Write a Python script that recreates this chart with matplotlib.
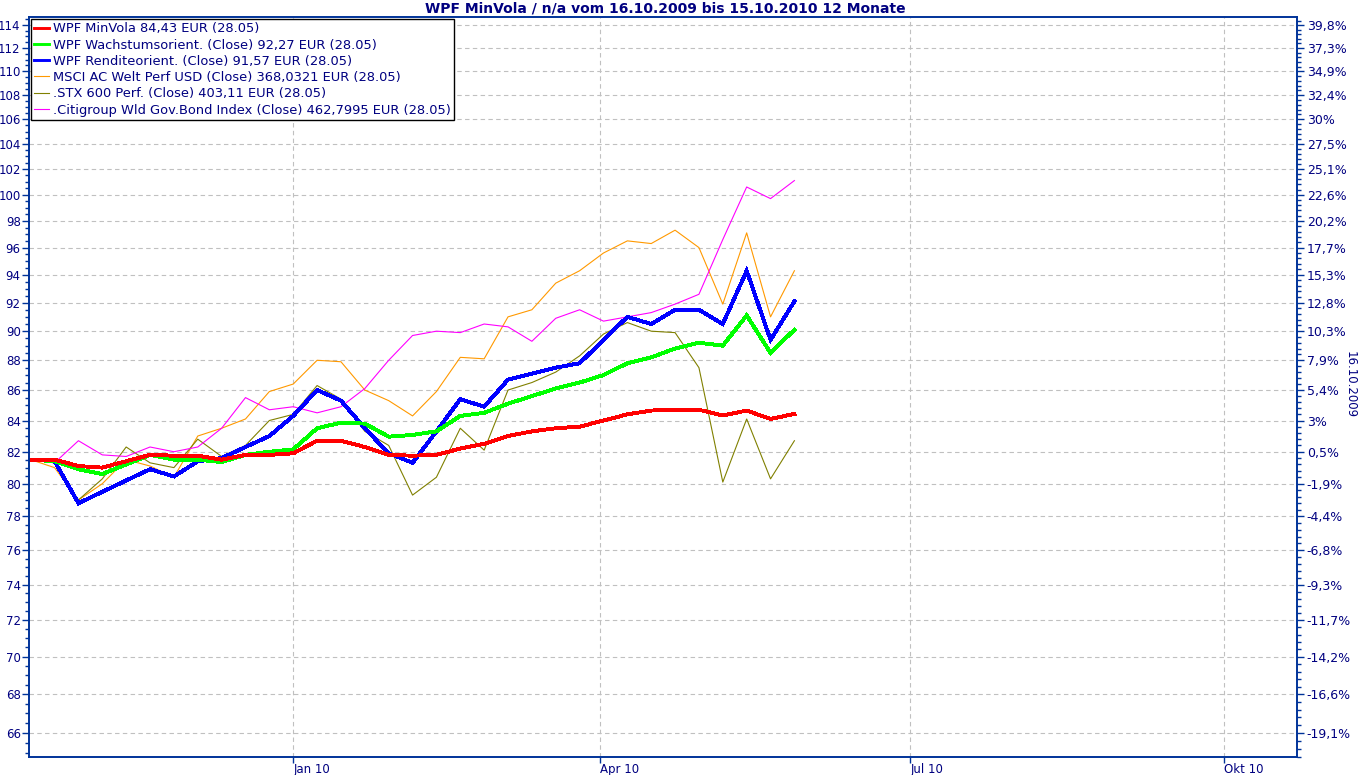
import pandas as pd
import matplotlib
matplotlib.use("Agg")
import matplotlib.pyplot as plt
from matplotlib.ticker import FixedLocator, NullFormatter, FixedFormatter
from datetime import datetime

# Wochenwerte 16.10.2009 .. 28.05.2010
dates = pd.date_range("2009-10-16", periods=33, freq="7D")

minvola = [81.5, 81.5, 81.1, 81.0, 81.4, 81.8, 81.75, 81.75, 81.5, 81.8, 81.8,
           81.9, 82.7, 82.7, 82.3, 81.8, 81.75, 81.8, 82.2, 82.5, 83.0, 83.3,
           83.5, 83.6, 84.0, 84.4, 84.65, 84.7, 84.7, 84.33, 84.65, 84.1, 84.43]
wachstum = [81.5, 81.4, 80.9, 80.6, 81.2, 81.8, 81.5, 81.5, 81.35, 81.8, 82.0,
            82.15, 83.5, 83.86, 83.8, 82.96, 83.07, 83.3, 84.3, 84.5, 85.1, 85.6,
            86.1, 86.5, 87.0, 87.8, 88.2, 88.8, 89.2, 89.0, 91.1, 88.5, 90.1]
rendite = [81.5, 81.4, 78.8, 79.5, 80.2, 80.9, 80.45, 81.4, 81.6, 82.3, 83.0,
           84.3, 86.0, 85.3, 83.5, 81.9, 81.3, 83.3, 85.4, 84.9, 86.7, 87.1,
           87.5, 87.8, 89.4, 91.0, 90.5, 91.5, 91.5, 90.5, 94.3, 89.4, 92.1]
msci = [81.5, 81.0, 79.0, 80.0, 81.5, 81.1, 80.4, 83.0, 83.5, 84.1, 85.9,
        86.4, 88.0, 87.9, 86.0, 85.3, 84.3, 85.9, 88.2, 88.1, 91.0, 91.5,
        93.4, 94.3, 95.6, 96.5, 96.3, 97.3, 96.0, 91.9, 97.1, 91.0, 94.3]
stx600 = [81.5, 81.3, 79.0, 80.3, 82.3, 81.3, 81.0, 82.8, 81.7, 82.4, 84.0,
          84.4, 86.3, 85.4, 83.3, 82.4, 79.3, 80.4, 83.5, 82.1, 86.0, 86.5,
          87.2, 88.3, 89.8, 90.6, 90.0, 89.9, 87.5, 80.1, 84.1, 80.3, 82.7]
citi = [81.5, 81.3, 82.7, 81.8, 81.7, 82.3, 82.0, 82.3, 83.5, 85.5, 84.7,
        84.9, 84.5, 84.9, 86.1, 88.0, 89.7, 90.0, 89.9, 90.5, 90.3, 89.3,
        90.9, 91.5, 90.7, 91.0, 91.3, 91.9, 92.6, 96.6, 100.6, 99.7, 101.1]

labels = [
    "WPF MinVola 84,43 EUR (28.05)",
    "WPF Wachstumsorient. (Close) 92,27 EUR (28.05)",
    "WPF Renditeorient. (Close) 91,57 EUR (28.05)",
    "MSCI AC Welt Perf USD (Close) 368,0321 EUR (28.05)",
    ".STX 600 Perf. (Close) 403,11 EUR (28.05)",
    ".Citigroup Wld Gov.Bond Index (Close) 462,7995 EUR (28.05)",
]

y_ticks = list(range(66, 115, 2))
base = 81.56  # Startwert = 0%
x_ticks = [datetime(2010, 1, 1), datetime(2010, 4, 1), datetime(2010, 7, 1), datetime(2010, 10, 1)]
x_labels = ["Jan 10", "Apr 10", "Jul 10", "Okt 10"]

NAVY = "#000080"
AXC = "#003399"

W, H = 1359, 775
fig = plt.figure(figsize=(W / 100, H / 100), dpi=100)
ax = fig.add_axes([29 / W, 1 - 757 / H, (1297 - 29) / W, (757 - 17) / H])

thin = dict(linewidth=0.8, antialiased=True)
thick = dict(linewidth=2.1, antialiased=False, solid_joinstyle="miter")
l_msci, = ax.plot(dates, msci, color="#ff9900", **thin)
l_stx, = ax.plot(dates, stx600, color="#808000", **thin)
l_citi, = ax.plot(dates, citi, color="#ff00ff", **thin)
l_ren, = ax.plot(dates, rendite, color="#0000ff", **thick)
l_wach, = ax.plot(dates, wachstum, color="#00ff00", **thick)
l_min, = ax.plot(dates, minvola, color="#ff0000", **thick)

ax.set_yscale("log")
ylim = (64.78, 114.71)
ax.set_ylim(*ylim)
ax.set_xlim(datetime(2009, 10, 15, 12), datetime(2010, 10, 22, 10))

ax.yaxis.set_major_locator(FixedLocator(y_ticks))
ax.yaxis.set_major_formatter(FixedFormatter([str(v) for v in y_ticks]))
ax.yaxis.set_minor_locator(FixedLocator([v / 2 for v in range(130, 230)]))
ax.yaxis.set_minor_formatter(NullFormatter())

ax.set_xticks(x_ticks)
ax.set_xticklabels(x_labels, ha="left")
ax.xaxis.set_minor_locator(FixedLocator([]))

ax.tick_params(axis="both", which="major", length=5, width=1, color=AXC,
               labelcolor=NAVY, labelsize=8.5, pad=2)
ax.tick_params(axis="y", which="major", pad=1)
ax.tick_params(axis="x", which="major", length=4, pad=0)
ax.tick_params(axis="y", which="minor", length=3, width=1, color=AXC)

ax.grid(True, which="major", color="#c0c0c0", linestyle=(0, (4, 3)), linewidth=0.8)
ax.set_axisbelow(True)

for s in ax.spines.values():
    s.set_color(AXC)
    s.set_linewidth(1.2)

# rechte Achse in Prozent
ax2 = ax.twinx()
ax2.set_yscale("log")
ax2.set_ylim(*ylim)
pct = []
for v in y_ticks:
    p = round((v / base - 1) * 100, 1)
    s = f"{p:.1f}"
    if s.endswith(".0"):
        s = s[:-2]
    pct.append(s.replace(".", ",") + "%")
ax2.yaxis.set_major_locator(FixedLocator(y_ticks))
ax2.yaxis.set_major_formatter(FixedFormatter(pct))
ax2.yaxis.set_minor_locator(FixedLocator([v * 0.4 for v in range(162, 287)]))
ax2.yaxis.set_minor_formatter(NullFormatter())
ax2.tick_params(axis="y", which="major", length=5, width=1, color=AXC,
                labelcolor=NAVY, labelsize=9, pad=2)
ax2.tick_params(axis="y", which="minor", length=3, width=1, color=AXC)
for s in ax2.spines.values():
    s.set_color(AXC)
    s.set_linewidth(1.2)

leg = ax2.legend([l_min, l_wach, l_ren, l_msci, l_stx, l_citi], labels,
                 loc="upper left", bbox_to_anchor=(31 / W, 1 - 19 / H),
                 bbox_transform=fig.transFigure, borderaxespad=0,
                 fancybox=False, framealpha=1, edgecolor="black",
                 fontsize=9.4, handlelength=1.1, handletextpad=0.3,
                 labelspacing=0.25, borderpad=0.25)
leg.get_frame().set_linewidth(1)
for t in leg.get_texts():
    t.set_color(NAVY)

fig.text(665 / W, 1 - 8 / H, "WPF MinVola / n/a vom 16.10.2009 bis 15.10.2010 12 Monate",
         ha="center", va="center", fontsize=10, fontweight="bold", color=NAVY)
fig.text(1350 / W, 1 - 385 / H, "16.10.2009", rotation=270, ha="center", va="center",
         fontsize=8.5, color=NAVY)

fig.savefig("out.png", dpi=100, facecolor="white")
